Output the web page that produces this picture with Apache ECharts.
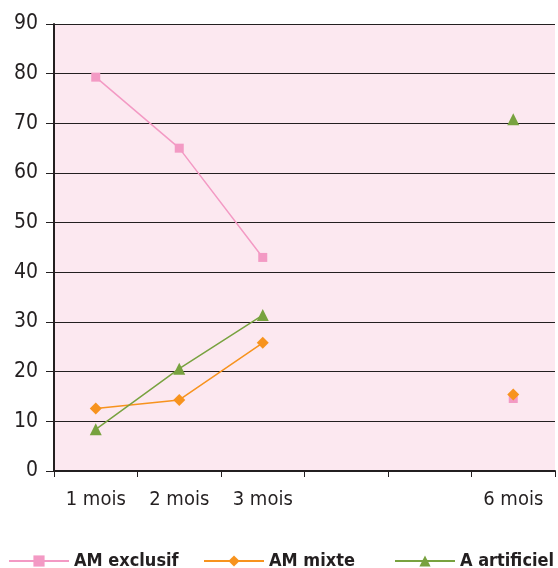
<!DOCTYPE html>
<html><head><meta charset="utf-8">
<script src="https://cdn.jsdelivr.net/npm/echarts@6/dist/echarts.min.js"></script>
<style>html,body{margin:0;padding:0;background:#fff}#c{width:558px;height:568px}</style>
</head><body><div id="c"></div>
<script>
const categories = ['1 mois', '2 mois', '3 mois', '', '', '6 mois'];
const amExclusif = [79.3, 65.0, 43.0, null, null, 14.6];
const amMixte = [12.6, 14.3, 25.8, null, null, 15.4];
const aArtificiel = [8.4, 20.6, 31.4, null, null, 70.8];
const seriesNames = ['AM exclusif', 'AM mixte', 'A artificiel'];
const yTicks = [0, 90, 10];

const font = '"DejaVu Sans Condensed","Liberation Sans Narrow","Liberation Sans",sans-serif';
const chart = echarts.init(document.getElementById('c'));
const mk = (name, data, color, symbol, size) => ({
  name, type: 'line', data, connectNulls: false, showSymbol: true,
  symbol, symbolSize: size, color,
  lineStyle: { color, width: 1.5 }, itemStyle: { color },
  emphasis: { disabled: true }, animation: false
});
const legend = (name, left) => ({
  data: [name], left, top: 547, itemWidth: 60, itemHeight: 14, itemGap: 0,
  textStyle: { fontFamily: font, fontWeight: 'bold', fontSize: 18, color: '#231F20', padding: [0,0,0,0] }
});
chart.setOption({
  animation: false,
  legend: [legend(seriesNames[0], 3), legend(seriesNames[1], 198), legend(seriesNames[2], 389)],
  grid: { left: 54, right: 3, top: 24, bottom: 97, show: true, backgroundColor: '#FCE8F0', borderWidth: 0 },
  xAxis: {
    type: 'category', data: categories, boundaryGap: true,
    axisLine: { lineStyle: { color: '#231F20', width: 2 } },
    axisTick: { show: true, length: 6, lineStyle: { color: '#231F20', width: 1 }, interval: 0 },
    axisLabel: { interval: 0, margin: 19, fontFamily: font, fontSize: 20, color: '#231F20' }
  },
  yAxis: {
    type: 'value', min: yTicks[0], max: yTicks[1], interval: yTicks[2],
    axisLine: { show: true, lineStyle: { color: '#231F20', width: 2 } },
    axisTick: { show: true, length: 8, lineStyle: { color: '#231F20', width: 1 } },
    axisLabel: { margin: 16, fontFamily: font, fontSize: 21, color: '#231F20' },
    splitLine: { lineStyle: { color: '#231F20', width: 1.2 } }
  },
  series: [
    mk(seriesNames[0], amExclusif, '#F39AC4', 'rect', 9),
    mk(seriesNames[1], amMixte, '#F7931E', 'diamond', 12),
    mk(seriesNames[2], aArtificiel, '#78A23F', 'triangle', 12)
  ]
});
</script></body></html>
